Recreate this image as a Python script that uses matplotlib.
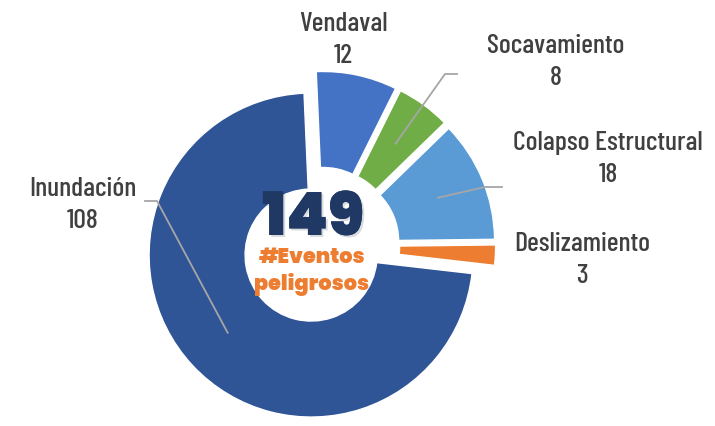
import numpy as np
import matplotlib.pyplot as plt
from matplotlib import patheffects as pe

# datos
categorias = ["Vendaval", "Socavamiento", "Colapso Estructural", "Deslizamiento", "Inundación"]
eventos = [12, 8, 18, 3, 108]
colores = ["#4472C4", "#70AD47", "#5B9BD5", "#ED7D31", "#2F5597"]
total = sum(eventos)

H = 427  # alto en pixeles, las posiciones de texto se leen de arriba hacia abajo
fuente = ["Barlow Condensed", "DejaVu Sans"]
fuente_centro = ["Poppins", "DejaVu Sans"]

fig = plt.figure(figsize=(7.15, 4.27), dpi=100)
ax = fig.add_axes([0, 0, 1, 1])

wedges, _ = ax.pie(eventos, colors=colores, center=(320.6, H - 247.2), radius=162,
                   explode=[13] * len(eventos), startangle=92.5, counterclock=False,
                   wedgeprops=dict(width=96, edgecolor="white", linewidth=1))
ax.set_xlim(0, 715)
ax.set_ylim(0, H)
ax.set_aspect("equal")
ax.axis("off")

# posicion de cada etiqueta (x, y desde arriba)
pos_etiquetas = {
    "Vendaval": (343, 40),
    "Socavamiento": (556, 62),
    "Colapso Estructural": (608, 159),
    "Deslizamiento": (582, 260),
    "Inundación": (83, 205),
}
for cat, val in zip(categorias, eventos):
    x, y = pos_etiquetas[cat]
    ax.text(x, H - y, f"{cat}\n{val}", ha="center", va="center", fontsize=20,
            fontweight=500, color="#404040", family=fuente, linespacing=1.45)

# lineas guia: codo y extremo
guias = {
    "Socavamiento": [(445, 75), (457, 75)],
    "Colapso Estructural": [(485, 188), (502, 188)],
    "Inundación": [(157, 202), (145, 202)],
}
for i, cat in enumerate(categorias):
    if cat not in guias:
        continue
    w = wedges[i]
    tm = np.deg2rad((w.theta1 + w.theta2) / 2)
    rm = w.r - w.width / 2
    xs = [w.center[0] + rm * np.cos(tm)] + [p[0] for p in guias[cat]]
    ys = [w.center[1] + rm * np.sin(tm)] + [H - p[1] for p in guias[cat]]
    ax.plot(xs, ys, color="#A6A6A6", lw=1.3)

# texto central
ax.text(313, H - 222, str(total), ha="center", va="center", fontsize=43,
        fontweight=900, color="#1F3864", family=fuente_centro,
        path_effects=[pe.withSimplePatchShadow(offset=(1.5, -1.5), alpha=0.15), pe.Normal()])
ax.text(312, H - 258, "#Eventos", ha="center", va="center", fontsize=15,
        fontweight=900, color="#ED7D31", family=fuente_centro)
ax.text(312, H - 284, "peligrosos", ha="center", va="center", fontsize=15,
        fontweight=900, color="#ED7D31", family=fuente_centro)

plt.savefig("out.png", dpi=100)
